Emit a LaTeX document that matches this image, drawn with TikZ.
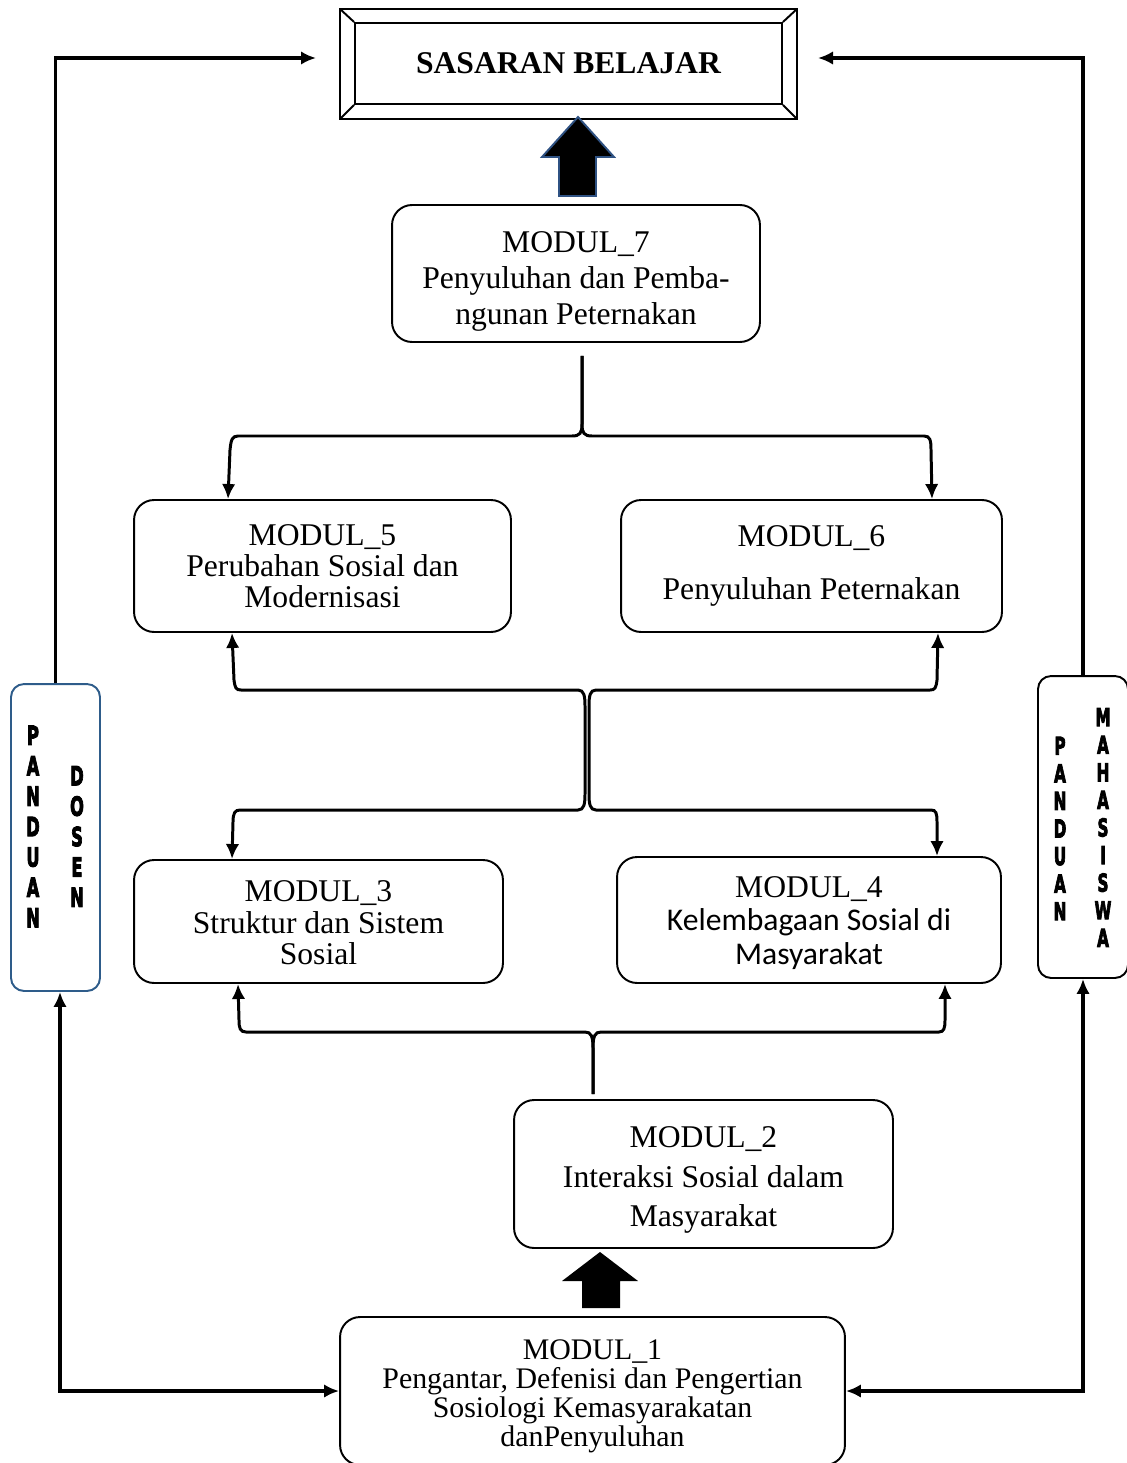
\documentclass[tikz,border=0pt]{standalone}
\usepackage{fontspec}
\usepackage{graphicx}
\setmainfont{Liberation Serif}
\newfontfamily\calibri{Carlito}
\newfontfamily\blockfont{DejaVu Sans}[BoldFeatures={FakeBold=4}]
\usetikzlibrary{arrows.meta,calc}

\newcommand{\sq}[1]{\scalebox{0.62}[1]{#1}}
\definecolor{arrowblue}{HTML}{2F5283}
\definecolor{boxblue}{HTML}{2E5C8A}

\tikzset{
  >={Latex[length=0.3cm,width=0.27cm]},
  modul/.style={draw, line width=1.1pt, rounded corners=0.4cm, inner sep=0pt},
  modtext/.style={align=center, inner sep=0pt},
  con/.style={line width=1.7pt},
  side/.style={line width=1.8pt},
  letters/.style={align=center, inner sep=0pt, font=\blockfont\bfseries\fontsize{15}{17.3}\selectfont},
}

\begin{document}
\begin{tikzpicture}[x=0.02cm,y=-0.02cm]

\useasboundingbox (0,0) rectangle (1126,1463);

% Sasaran

\node [draw, line width=1.1pt, minimum width=8.54cm, minimum height=1.62cm, font=\bfseries\fontsize{18}{20}\selectfont] (goal) at (568.5,63.5) {SASARAN BELAJAR};
\coordinate (gnw) at ($(goal.north west)+(-14,-13)$);
\coordinate (gse) at ($(goal.south east)+(14,14)$);
\draw [line width=1.1pt] (gnw) rectangle (gse);
\draw [line width=1.1pt] (gnw) -- (goal.north west);
\draw [line width=1.1pt] (gse) -- (goal.south east);
\draw [line width=1.1pt] (gnw |- gse) -- (goal.south west);
\draw [line width=1.1pt] (gse |- gnw) -- (goal.north east);

\draw [fill=black, draw=arrowblue, line width=1.1pt] (578,117) -- (614,157) -- (596,157) -- (596,196) -- (559,196) -- (559,157) -- (542,157) -- cycle;

% Modul

\node [modul, minimum width=7.36cm, minimum height=2.74cm] (m7) at (576,273.5) {};
\node [modtext, font=\fontsize{18}{20.4}\selectfont] (m7t) at ([yshift=-0.16cm]m7.center) {MODUL\_7\\Penyuluhan dan Pemba-\\ngunan Peternakan};

\node [modul, minimum width=7.54cm, minimum height=2.64cm] (m5) at (322.5,566) {};
\node [modtext, font=\fontsize{18}{17.6}\selectfont] (m5t) at (m5.center) {MODUL\_5\\Perubahan Sosial dan\\Modernisasi};
\node [modul, minimum width=7.62cm, minimum height=2.64cm] (m6) at (811.5,566) {};
\node [modtext, font=\fontsize{18}{18}\selectfont] (m6t) at (m6.center) {MODUL\_6\\[12pt]Penyuluhan Peternakan};

\node [modul, minimum width=7.38cm, minimum height=2.46cm] (m3) at (318.5,921.5) {};
\node [modtext, font=\fontsize{18}{18}\selectfont] (m3t) at ([yshift=-0.03cm]m3.center) {MODUL\_3\\Struktur dan Sistem\\Sosial};
\node [modul, minimum width=7.68cm, minimum height=2.52cm] (m4) at (809,920) {};
\node [modtext, font=\fontsize{18}{19}\selectfont] (m4t) at ([yshift=-0.06cm]m4.center) {MODUL\_4\\{\calibri Kelembagaan Sosial di}\\{\calibri Masyarakat}};

\node [modul, minimum width=7.58cm, minimum height=2.96cm] (m2) at (703.5,1174) {};
\node [modtext, font=\fontsize{18}{22.7}\selectfont] (m2t) at ([yshift=-0.12cm]m2.center) {MODUL\_2\\Interaksi Sosial dalam\\Masyarakat};

\fill (600,1252) -- (638,1281) -- (620,1281) -- (620,1308) -- (582,1308) -- (582,1281) -- (562,1281) -- cycle;

\node [modul, minimum width=10.1cm, minimum height=2.96cm] (m1) at (592.5,1391) {};
\node [modtext, font=\fontsize{17}{16.5}\selectfont] (m1t) at ([yshift=-0.1cm]m1.center) {MODUL\_1\\Pengantar, Defenisi dan Pengertian\\Sosiologi Kemasyarakatan\\danPenyuluhan};

% Panduan

\node [draw=boxblue, line width=1.1pt, rounded corners=0.26cm, minimum width=1.78cm, minimum height=6.14cm] (pd) at (55.5,837.5) {};
\node [letters] (pdl) at (33,826.5) {\sq{P}\\\sq{A}\\\sq{N}\\\sq{D}\\\sq{U}\\\sq{A}\\\sq{N}};
\node [letters] (pdr) at (77,836.5) {\sq{D}\\\sq{O}\\\sq{S}\\\sq{E}\\\sq{N}};

\node [draw, line width=1.1pt, rounded corners=0.26cm, minimum width=1.8cm, minimum height=6.04cm] (pm) at (1083,827) {};
\node [letters, font=\blockfont\bfseries\fontsize{14}{15.7}\selectfont] (pml) at (1060,828.5) {\sq{P}\\\sq{A}\\\sq{N}\\\sq{D}\\\sq{U}\\\sq{A}\\\sq{N}};
\node [letters, font=\blockfont\bfseries\fontsize{14}{15.7}\selectfont] (pmr) at (1103,827.5) {\sq{M}\\\sq{A}\\\sq{H}\\\sq{A}\\\sq{S}\\\sq{I}\\\sq{S}\\\sq{W}\\\sq{A}};

% Connectors

\draw [con, ->, shorten <=0.26cm] (582,0 |- m7.south) -- (582,424) .. controls (582,433) and (580,436) .. (572,436) -- (238,436) .. controls (232,436) and (231,440) .. (230,450) -- (228,0 |- m5.north);
\draw [con, ->, shorten <=0.26cm] (582,0 |- m7.south) -- (582,424) .. controls (582,433) and (584,436) .. (592,436) -- (924,436) .. controls (930,436) and (931,440) .. (931,450) -- (932,0 |- m6.north);

\draw [con, <->] (232,0 |- m5.south) -- (234,680) .. controls (235,688) and (236,690) .. (241,690) -- (578,690) .. controls (584,690) and (585,696) .. (585,706) -- (585,794) .. controls (585,804) and (584,810) .. (578,810) -- (240,810) .. controls (235,810) and (233,813) .. (233,822) -- (232,0 |- m3.north);
\draw [con, <->] (938,0 |- m6.south) -- (937,680) .. controls (936,688) and (935,690) .. (930,690) -- (596,690) .. controls (590,690) and (589,696) .. (589,706) -- (589,794) .. controls (589,804) and (590,810) .. (596,810) -- (931,810) .. controls (936,810) and (937,813) .. (937,822) -- (937,0 |- m4.north);

\draw [con, ->, shorten <=0.1cm] (593,0 |- m2.north) -- (593,1048) .. controls (593,1036) and (591,1032) .. (585,1032) -- (246,1032) .. controls (240,1032) and (239,1028) .. (239,1020) -- (238,0 |- m3.south);
\draw [con, ->, shorten <=0.1cm] (593,0 |- m2.north) -- (593,1048) .. controls (593,1036) and (595,1032) .. (601,1032) -- (939,1032) .. controls (944,1032) and (945,1028) .. (945,1020) -- (945,0 |- m4.south);

\draw [side, ->] (pd.north) |- (316,58);
\draw [side, ->] (pm.north) |- (818,58);
\draw [side, <->] ([xshift=0.09cm]pd.south) |- (m1.west);
\draw [side, <->] (pm.south) |- (m1.east);

\end{tikzpicture}
\end{document}
